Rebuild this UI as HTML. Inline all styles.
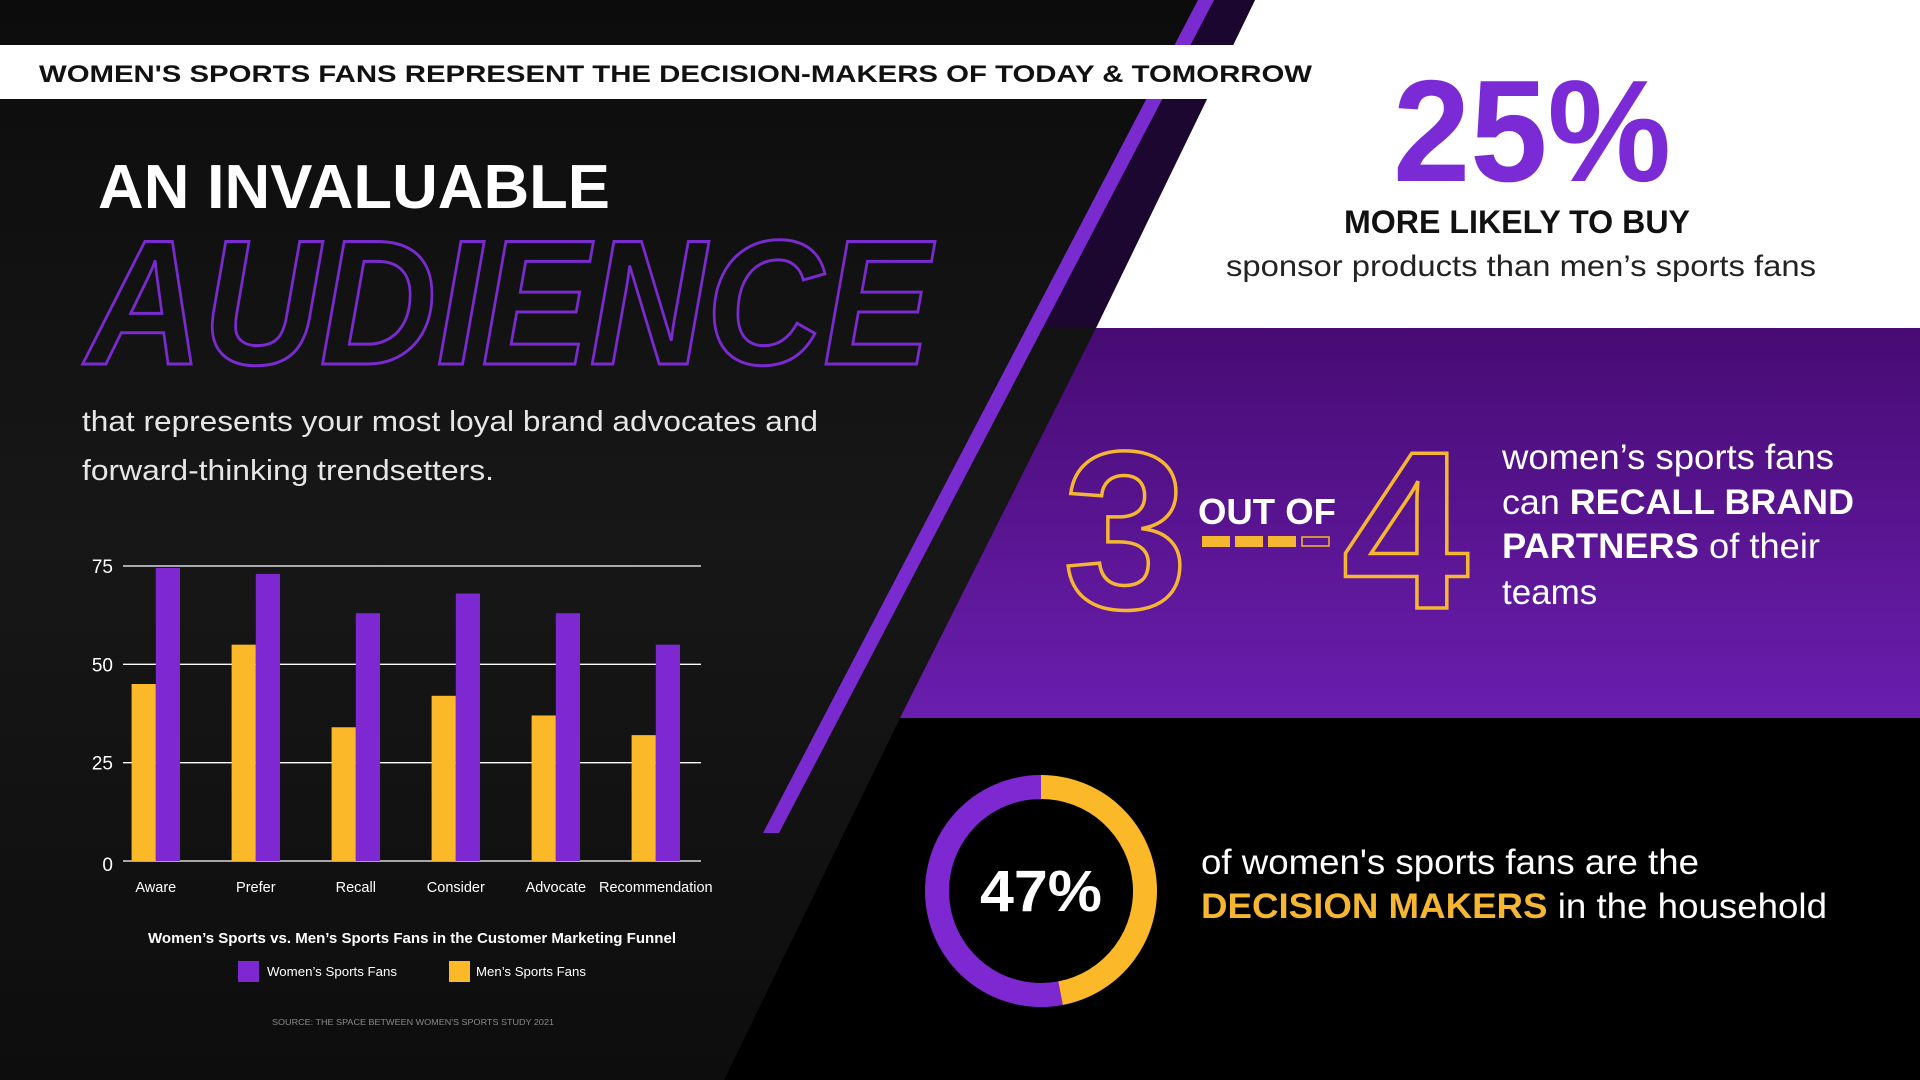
<!DOCTYPE html>
<html><head><meta charset="utf-8"><style>
html,body{margin:0;padding:0;background:#0a0a0a;}
svg{display:block;font-family:"Liberation Sans",sans-serif;}
</style></head><body>
<svg id="root" width="1920" height="1080" viewBox="0 0 1920 1080" xmlns="http://www.w3.org/2000/svg">
<defs>
<linearGradient id="bgG" x1="0" y1="0" x2="0" y2="1"><stop offset="0" stop-color="#0c0c0c"/><stop offset="0.5" stop-color="#171717"/><stop offset="1" stop-color="#0d0d0d"/></linearGradient>
<linearGradient id="purG" x1="0" y1="0" x2="0" y2="1"><stop offset="0" stop-color="#470b73"/><stop offset="1" stop-color="#6a1eae"/></linearGradient>
</defs>
<rect x="0" y="0" width="1920" height="1080" fill="url(#bgG)"/>
<polygon points="900,718 1920,718 1920,1080 724,1080" fill="#000"/>
<polygon points="1255,0 1920,0 1920,328 1096,328" fill="#fff"/>
<polygon points="1096,328 1920,328 1920,718 900,718" fill="url(#purG)"/>
<polygon points="1210,0 1255,0 1096,328 1040,328" fill="#1e0636" opacity="0.85"/>
<polygon points="1198,0 1214,0 779,833 763,833" fill="#7a2bd0"/>
<polygon points="0,45 1361,45 1337,99 0,99" fill="#fff"/>
<text x="39" y="82" font-size="24" font-weight="bold" fill="#111" textLength="1273" lengthAdjust="spacingAndGlyphs">WOMEN'S SPORTS FANS REPRESENT THE DECISION-MAKERS OF TODAY &amp; TOMORROW</text>
<text x="98" y="208" font-size="62" font-weight="bold" fill="#fff" textLength="512" lengthAdjust="spacingAndGlyphs">AN INVALUABLE</text>
<text x="86" y="364" font-size="178" font-weight="bold" font-style="italic" fill="none" stroke="#7a2bd0" stroke-width="3" textLength="845" lengthAdjust="spacingAndGlyphs">AUDIENCE</text>
<text x="82" y="431" font-size="29" fill="#e6e6e6" textLength="736" lengthAdjust="spacingAndGlyphs">that represents your most loyal brand advocates and</text>
<text x="82" y="480" font-size="29" fill="#e6e6e6" textLength="412" lengthAdjust="spacingAndGlyphs">forward-thinking trendsetters.</text>

<g id="chart"></g>

<text x="1393" y="181" font-size="145" font-weight="bold" fill="#7b2bd6" textLength="278" lengthAdjust="spacingAndGlyphs">25%</text>
<text x="1344" y="233" font-size="32" font-weight="bold" fill="#111" textLength="346" lengthAdjust="spacingAndGlyphs">MORE LIKELY TO BUY</text>
<text x="1226" y="276" font-size="30" fill="#222" textLength="590" lengthAdjust="spacingAndGlyphs">sponsor products than men’s sports fans</text>

<text x="1063" y="608" font-size="225" font-weight="bold" fill="none" stroke="#f5b731" stroke-width="3.5" textLength="125" lengthAdjust="spacingAndGlyphs">3</text>
<text x="1198" y="524" font-size="36" font-weight="bold" fill="#fff" textLength="138" lengthAdjust="spacingAndGlyphs">OUT OF</text>
<rect x="1202" y="536" width="28" height="11" fill="#f5b731"/>
<rect x="1235" y="536" width="28" height="11" fill="#f5b731"/>
<rect x="1268" y="536" width="28" height="11" fill="#f5b731"/>
<rect x="1302" y="537" width="27" height="9" fill="none" stroke="#f5b731" stroke-width="1.5"/>
<text x="1342" y="608" font-size="225" font-weight="bold" fill="none" stroke="#f5b731" stroke-width="3.5" textLength="127" lengthAdjust="spacingAndGlyphs">4</text>
<text x="1502" y="469" font-size="35" fill="#fff" textLength="332" lengthAdjust="spacingAndGlyphs">women’s sports fans</text>
<text x="1502" y="514" font-size="35" fill="#fff" textLength="352" lengthAdjust="spacingAndGlyphs">can <tspan font-weight="bold">RECALL BRAND</tspan></text>
<text x="1502" y="558" font-size="35" fill="#fff" textLength="318" lengthAdjust="spacingAndGlyphs"><tspan font-weight="bold">PARTNERS</tspan> of their</text>
<text x="1502" y="604" font-size="35" fill="#fff">teams</text>

<g id="donut"></g>
<text x="1041" y="911" font-size="58" font-weight="bold" fill="#fff" text-anchor="middle" textLength="122" lengthAdjust="spacingAndGlyphs">47%</text>
<text x="1201" y="874" font-size="35" fill="#fff" textLength="498" lengthAdjust="spacingAndGlyphs">of women's sports fans are the</text>
<text x="1201" y="918" font-size="35" fill="#fff" textLength="626" lengthAdjust="spacingAndGlyphs"><tspan font-weight="bold" fill="#f5b731">DECISION MAKERS</tspan> in the household</text>
</svg>
<script>
const categories = ["Aware","Prefer","Recall","Consider","Advocate","Recommendation"];
const womenValues = [74.5, 73, 63, 68, 63, 55];
const menValues = [45, 55, 34, 42, 37, 32];
const tickValues = [0, 25, 50, 75];
const tickLabels = ["0","25","50","75"];
const donutValues = [47, 53];

const NS = "http://www.w3.org/2000/svg";
function mk(tag, attrs, parent){const e=document.createElementNS(NS,tag);for(const k in attrs)e.setAttribute(k,attrs[k]);parent.appendChild(e);return e;}
const chart = document.getElementById('chart');
const plotL=123, plotR=701, y0=861, y75=566, bandStart=105.8, step=100, barW=24.2;
const yScale = v => y0 - (v/75)*(y0-y75);
const xCenter = i => bandStart + step/2 + i*step;

tickValues.forEach((t,i)=>{
  const l = mk('line',{x1:plotL,x2:plotR,y1:yScale(t),y2:yScale(t),stroke:'#fff','stroke-width':1.3},chart);
  
  
  const tx = mk('text',{x:113,y:yScale(t)+(t===0?10:7),'font-size':19,fill:'#fff','text-anchor':'end'},chart);
  tx.textContent = tickLabels[i];
  
  
});
categories.forEach((c,i)=>{
  const cx = xCenter(i);
  const m = mk('rect',{x:cx-barW,y:yScale(menValues[i]),width:barW,height:y0-yScale(menValues[i]),fill:'#fbb829'},chart);
  
  
  const w = mk('rect',{x:cx,y:yScale(womenValues[i]),width:barW,height:y0-yScale(womenValues[i]),fill:'#7e28d2'},chart);
  
  
  const lb = mk('text',{x:cx,y:892,'font-size':14.5,fill:'#fff','text-anchor':'middle'},chart);
  lb.textContent = c;
  
  
});
const title = mk('text',{x:148,y:943,'font-size':14.5,'font-weight':'bold',fill:'#fff',textLength:528,lengthAdjust:'spacingAndGlyphs'},chart);
title.textContent = "Women’s Sports vs. Men’s Sports Fans in the Customer Marketing Funnel";


const lw = mk('rect',{x:238,y:961,width:21,height:21,fill:'#7e28d2'},chart);


const lwt = mk('text',{x:267,y:976,'font-size':13,fill:'#fff',textLength:130,lengthAdjust:'spacingAndGlyphs'},chart);
lwt.textContent = "Women’s Sports Fans";


const lm = mk('rect',{x:449,y:961,width:21,height:21,fill:'#fbb829'},chart);


const lmt = mk('text',{x:476,y:976,'font-size':13,fill:'#fff',textLength:110,lengthAdjust:'spacingAndGlyphs'},chart);
lmt.textContent = "Men’s Sports Fans";


const src = mk('text',{x:272,y:1025,'font-size':8.5,fill:'#8a8a8a',textLength:282,lengthAdjust:'spacingAndGlyphs'},chart);
src.textContent = "SOURCE: THE SPACE BETWEEN WOMEN'S SPORTS STUDY 2021";



const donut = document.getElementById('donut');
const cx=1041, cy=891, rO=116, rI=92, rM=(rO+rI)/2;
const total = donutValues.reduce((a,b)=>a+b,0);
const colors=['#fbb829','#7e28d2'];
const names=['donut-slice-decision-makers','donut-slice-others'];
let a0 = -Math.PI/2;
donutValues.forEach((v,i)=>{
  const a1 = a0 + v/total*2*Math.PI;
  const large = (a1-a0)>Math.PI?1:0;
  const p = mk('path',{d:`M ${cx+rM*Math.cos(a0)} ${cy+rM*Math.sin(a0)} A ${rM} ${rM} 0 ${large} 1 ${cx+rM*Math.cos(a1)} ${cy+rM*Math.sin(a1)}`,fill:'none',stroke:colors[i],'stroke-width':rO-rI},donut);
  
  
  a0 = a1;
});
</script>
</body></html>
